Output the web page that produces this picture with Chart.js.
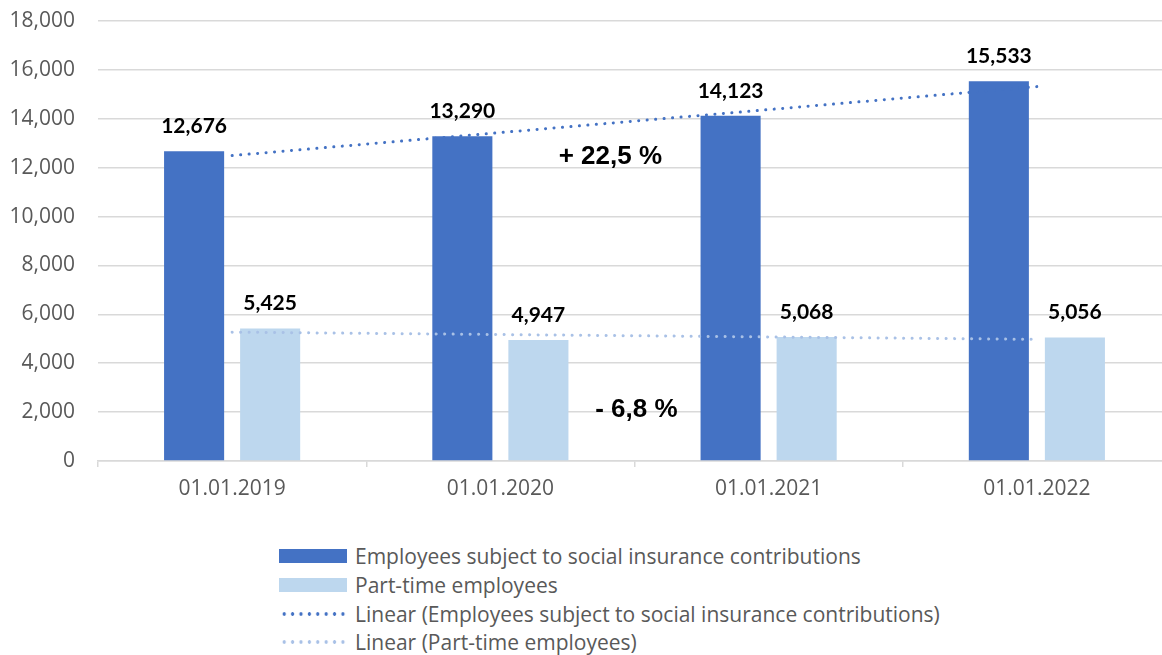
<!DOCTYPE html>
<html>
<head>
<meta charset="utf-8">
<script src="https://cdn.jsdelivr.net/npm/chart.js"></script>
<style>
	html, body { margin: 0; padding: 0; background: #fff; overflow: hidden; }
	#wrap { position: relative; width: 1162px; height: 655px; overflow: hidden; }
	#employees { position: absolute; left: 0; top: 0; }
	#legend { position: absolute; left: 279px; top: 542px; font-family: "Open Sans", sans-serif; font-size: 21px; color: #595959; }
	#legend .item { display: flex; align-items: center; height: 28.7px; }
	#legend .key { width: 68px; height: 14px; margin-right: 8px; flex: none; }
	#legend .dots { background-repeat: repeat-x; background-position: 1px center; background-size: 8.4px 14px; }
</style>
</head>
<body>
<div id="wrap">
	<canvas id="employees" width="1171" height="525"></canvas>
	<div id="legend"></div>
</div>

<script>
	// --- Data ---
	var categories = [ '01.01.2019', '01.01.2020', '01.01.2021', '01.01.2022' ];
	var socialInsured = [ 12676, 13290, 14123, 15533 ];
	var partTime = [ 5425, 4947, 5068, 5056 ];
	// linear trend end values (first and last date)
	var socialInsuredTrend = [ 12495, null, null, 15316 ];
	var partTimeTrend = [ 5272, null, null, 4976 ];
	var yTicks = [ 0, 2000, 4000, 6000, 8000, 10000, 12000, 14000, 16000, 18000 ];
	var changeLabels = [ '+ 22,5 %', '- 6,8 %' ];

	var darkBlue = '#4472c4';
	var lightBlue = '#bdd7ee';
	var lightTrend = '#a9c1e6';

	// Bold value labels above the bars
	var barLabels = {
		id: 'barLabels',
		afterDatasetsDraw: function (chart) {
			var ctx = chart.ctx;
			ctx.save();
			ctx.font = 'bold 21px Lato, sans-serif';
			ctx.fillStyle = '#000';
			ctx.textAlign = 'center';
			ctx.textBaseline = 'middle';
			chart.data.datasets.forEach(function (ds, i) {
				if (ds.type !== 'bar') return;
				chart.getDatasetMeta(i).data.forEach(function (bar, j) {
					ctx.fillText(ds.data[j].toLocaleString('en-US'), bar.x, bar.y - 25);
				});
			});
			ctx.restore();
		}
	};

	// Percentage change notes between the bars
	var changeNotes = {
		id: 'changeNotes',
		afterDraw: function (chart) {
			var ctx = chart.ctx;
			var x = chart.scales.x, y = chart.scales.y;
			ctx.save();
			ctx.font = 'bold 26px "Liberation Sans", Arial, sans-serif';
			ctx.fillStyle = '#000';
			ctx.textAlign = 'center';
			ctx.textBaseline = 'middle';
			ctx.fillText(changeLabels[0], x.getPixelForValue(1.41), y.getPixelForValue(12430));
			ctx.fillText(changeLabels[1], x.getPixelForValue(1.507), y.getPixelForValue(2090));
			ctx.restore();
		}
	};

	var tickFont = { family: '"Open Sans", sans-serif', size: 21 };

	var chart = new Chart(document.getElementById('employees'), {
		type: 'bar',
		data: {
			labels: categories,
			datasets: [ {
				type: 'bar',
				label: 'Employees subject to social insurance contributions',
				data: socialInsured,
				backgroundColor: darkBlue,
				order: 2
			}, {
				type: 'bar',
				label: 'Part-time employees',
				data: partTime,
				backgroundColor: lightBlue,
				order: 2
			}, {
				type: 'line',
				label: 'Linear (Employees subject to social insurance contributions)',
				data: socialInsuredTrend,
				borderColor: darkBlue,
				borderWidth: 3,
				borderDash: [ 0.1, 8.4 ],
				borderCapStyle: 'round',
				pointRadius: 0,
				spanGaps: true,
				order: 1
			}, {
				type: 'line',
				label: 'Linear (Part-time employees)',
				data: partTimeTrend,
				borderColor: lightTrend,
				borderWidth: 3,
				borderDash: [ 0.1, 8.4 ],
				borderCapStyle: 'round',
				pointRadius: 0,
				spanGaps: true,
				order: 1
			} ]
		},
		options: {
			responsive: false,
			animation: false,
			datasets: {
				bar: { categoryPercentage: 0.567, barPercentage: 0.79 }
			},
			layout: { padding: { top: 21, right: 0, bottom: 0, left: 0 } },
			scales: {
				x: {
					grid: { offset: true, drawOnChartArea: false, drawTicks: true, tickLength: 6, color: '#d9d9d9', lineWidth: 1.5 },
					border: { color: '#d9d9d9', width: 1.5 },
					ticks: { color: '#595959', font: tickFont, padding: 9 },
					afterFit: function (s) { s.height = 64; }
				},
				y: {
					min: 0,
					max: 18000,
					afterBuildTicks: function (s) { s.ticks = yTicks.map(function (v) { return { value: v }; }); },
					grid: { color: '#d9d9d9', lineWidth: 1.5, drawTicks: false },
					border: { display: false },
					ticks: {
						color: '#595959',
						font: tickFont,
						padding: 23,
						callback: function (v) { return v.toLocaleString('en-US'); }
					},
					afterFit: function (s) {
						s.width = 98;
						s.paddingTop = 0;
						s.paddingBottom = 0;
					}
				}
			},
			plugins: {
				legend: { display: false },
				tooltip: { enabled: false }
			}
		},
		plugins: [ barLabels, changeNotes ]
	});

	// Legend as a vertical list under the chart
	var legend = document.getElementById('legend');
	chart.data.datasets.forEach(function (ds) {
		var item = document.createElement('div');
		item.className = 'item';
		var key = document.createElement('span');
		key.className = 'key';
		if (ds.type === 'bar') {
			key.style.background = ds.backgroundColor;
		} else {
			key.className = 'key dots';
			key.style.backgroundImage = 'radial-gradient(circle, ' + ds.borderColor + ' 1.5px, transparent 2px)';
		}
		var text = document.createElement('span');
		text.textContent = ds.label;
		item.appendChild(key);
		item.appendChild(text);
		legend.appendChild(item);
	});
</script>
</body>
</html>
